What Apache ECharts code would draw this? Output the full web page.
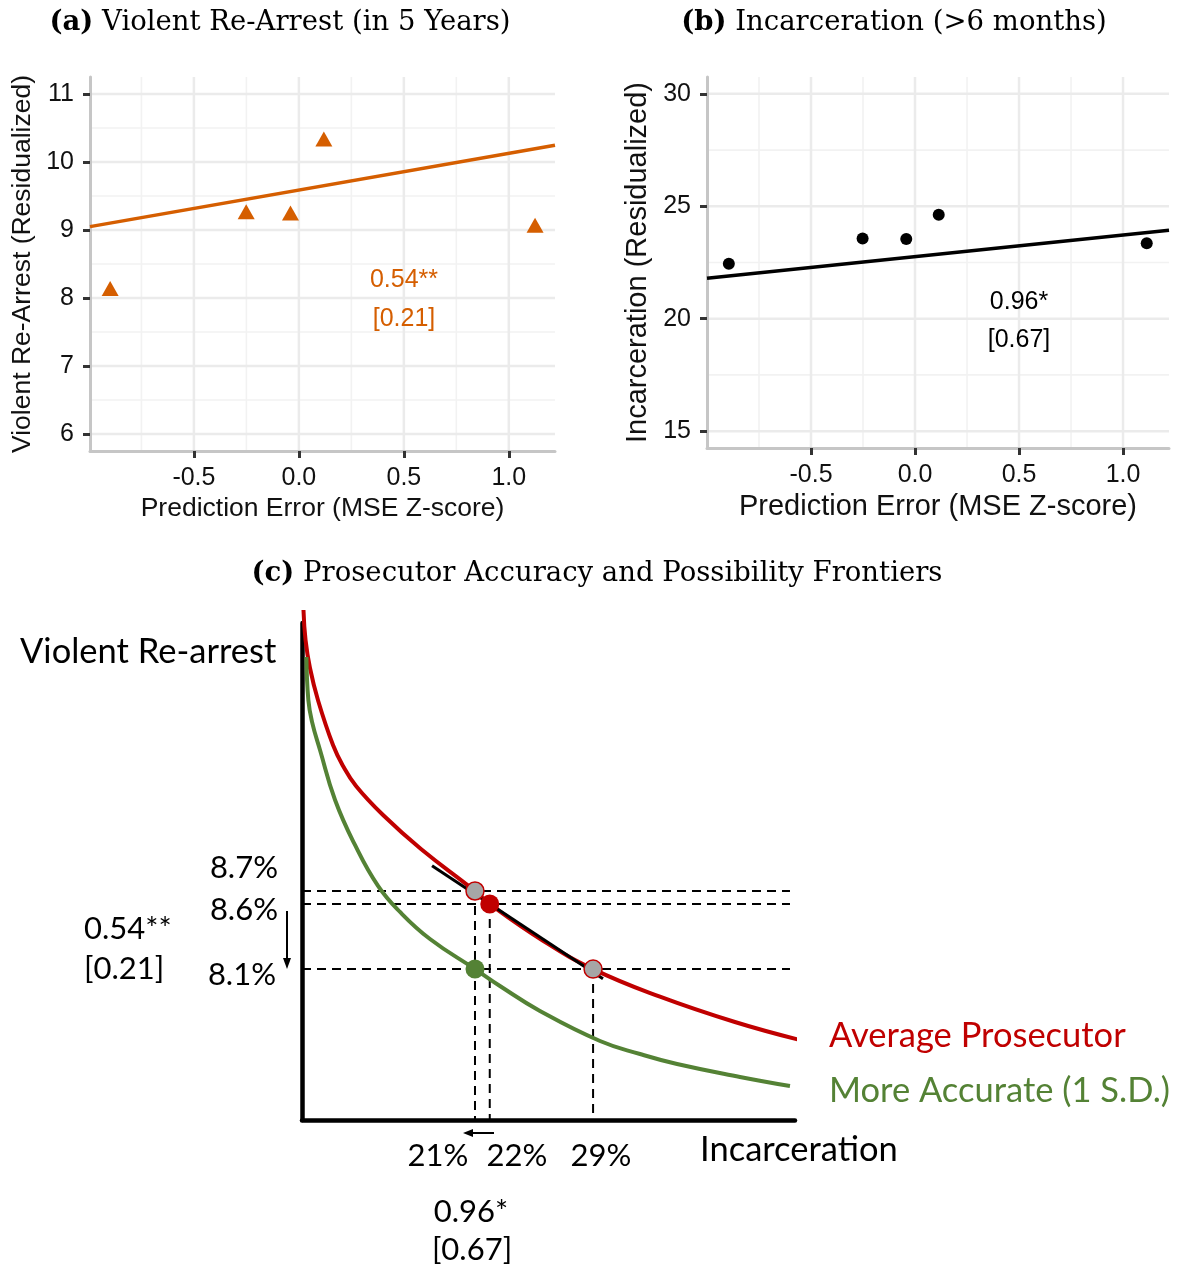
<!DOCTYPE html>
<html>
<head>
<meta charset="utf-8">
<script src="https://cdn.jsdelivr.net/npm/echarts@6/dist/echarts.min.js"></script>
<style>
  html, body { margin: 0; padding: 0; background: #ffffff; }
  #chart { width: 1203px; height: 1268px; }
</style>
</head>
<body>
<div id="chart"></div>
<script>
// ---- Panel (a): violent re-arrest vs. prosecutor prediction error ----
const errA = [-0.899, -0.251, -0.040, 0.119, 1.125];
const rearrestA = [8.14, 9.27, 9.25, 10.34, 9.07];
const fitStartA = [-0.995, 9.05];
const fitEndXA = 1.22;
const slopeA = 0.54;
const seA = 0.21;
const starsA = '**';

// ---- Panel (b): incarceration vs. prosecutor prediction error ----
const errB = [-0.895, -0.252, -0.042, 0.114, 1.114];
const incarcB = [22.44, 23.57, 23.54, 24.62, 23.36];
const fitStartB = [-1.0, 21.80];
const fitEndXB = 1.221;
const slopeB = 0.96;
const seB = 0.67;
const starsB = '*';

// ---- Tick values ----
const xTicksAB = [-0.5, 0.0, 0.5, 1.0];
const xMinorAB = [-0.75, -0.25, 0.25, 0.75];
const yTicksA = [6, 7, 8, 9, 10, 11];
const yMinorA = [6.5, 7.5, 8.5, 9.5, 10.5];
const yTicksB = [15, 20, 25, 30];
const yMinorB = [17.5, 22.5, 27.5];

// ---- Panel (c): possibility frontiers (incarceration %, violent re-arrest %) ----
const avgFrontier = [
  [9.38, 10.860], [9.52, 10.630], [9.82, 10.414], [10.36, 10.168], [11.38, 9.822],
  [12.06, 9.661], [12.94, 9.507], [14.77, 9.284], [17.34, 9.023], [21, 8.7],
  [22, 8.6], [25.61, 8.318], [29, 8.1], [33.53, 7.888], [38.61, 7.693], [43.01, 7.555]
];
const accFrontier = [
  [9.58, 10.499], [9.71, 10.168], [9.96, 10.0], [10.50, 9.784], [11.52, 9.400],
  [12.87, 9.054], [14.43, 8.739], [15.92, 8.539], [17.95, 8.331], [21, 8.1],
  [22.69, 7.970], [25.40, 7.778], [29.47, 7.547], [32.18, 7.447], [34.69, 7.370],
  [38.95, 7.271], [42.34, 7.201]
];
const avgPoint = [22, 8.6];
const avgAltPoints = [[21, 8.7], [29, 8.1]];
const accPoint = [21, 8.1];
const tangent = [[18.09, 8.894], [29.67, 8.025]];
const guideEndX = 42.34;

const AX = { min: -0.995, max: 1.22 };
const AY = { min: 5.75, max: 11.25 };
const BX = { min: -1.0, max: 1.221 };
const BY = { min: 14.25, max: 30.75 };
const CX = { min: 9.28, max: 42.68 };
const CY = { min: 6.94, max: 10.76 };

const ORANGE = '#D55E00';
const RED = '#C00000';
const GREEN = '#548235';
const SANS = '"Liberation Sans", Arial, sans-serif';
const CMS = 'Lato, "Noto Sans", sans-serif';
const SERIF = '"DejaVu Serif", serif';

// light ggplot-style grid lines drawn through the axis scales
function gridLines(axisIdx, vals, dir, other, color, width) {
  return {
    type: 'custom', xAxisIndex: axisIdx, yAxisIndex: axisIdx, silent: true, z: 1,
    data: vals.map(v => dir === 'v' ? [v, other] : [other, v]),
    renderItem(params, api) {
      const cs = params.coordSys;
      const p = api.coord([api.value(0), api.value(1)]);
      const shape = dir === 'v'
        ? { x1: p[0], y1: cs.y, x2: p[0], y2: cs.y + cs.height }
        : { x1: cs.x, y1: p[1], x2: cs.x + cs.width, y2: p[1] };
      return { type: 'line', shape, style: { stroke: color, lineWidth: width } };
    }
  };
}

function ggAxis(gridIndex, ext, ticks, fmt, name, nameGap, nameSize, isX) {
  return {
    type: 'value', gridIndex, min: ext.min, max: ext.max, z: 3,
    name, nameLocation: 'middle', nameGap,
    nameTextStyle: { fontFamily: SANS, fontSize: nameSize, color: '#111' },
    axisLine: { show: true, onZero: false, lineStyle: { color: '#c6c6c6', width: 3 } },
    axisTick: { show: true, customValues: ticks, length: 7, inside: false,
      lineStyle: { color: '#333', width: 3 } },
    axisLabel: { show: true, customValues: ticks, formatter: fmt, margin: isX ? 15 : 16,
      fontFamily: SANS, fontSize: 25, color: '#111' },
    splitLine: { show: false }
  };
}

const MAJ = '#ebebeb', MIN = '#f2f2f2';

const fitEndA = [fitEndXA, fitStartA[1] + slopeA * (fitEndXA - fitStartA[0])];
const fitEndB = [fitEndXB, fitStartB[1] + slopeB * (fitEndXB - fitStartB[0])];

function dashed(a, b) {
  return {
    type: 'line', xAxisIndex: 2, yAxisIndex: 2, data: [a, b], symbol: 'none', z: 4,
    silent: true, lineStyle: { color: '#000', width: 2, type: [9, 6] }
  };
}

const guides = [
  dashed([CX.min, avgAltPoints[0][1]], [guideEndX, avgAltPoints[0][1]]),
  dashed([CX.min, avgPoint[1]], [guideEndX, avgPoint[1]]),
  dashed([CX.min, accPoint[1]], [guideEndX, accPoint[1]]),
  dashed([avgAltPoints[0][0], avgAltPoints[0][1]], [avgAltPoints[0][0], CY.min]),
  dashed([avgPoint[0], avgPoint[1]], [avgPoint[0], CY.min]),
  dashed([avgAltPoints[1][0], avgAltPoints[1][1]], [avgAltPoints[1][0], CY.min])
];

function txt(text, x, y, opts) {
  return {
    type: 'text', z: 10, silent: true,
    style: Object.assign({
      text, x, y, font: '31px ' + CMS, fill: '#000',
      align: 'left', textAlign: 'left', verticalAlign: 'middle', textVerticalAlign: 'middle'
    }, opts || {})
  };
}

function panelTitle(tag, rest, cx, cy) {
  return {
    type: 'text', z: 10, silent: true,
    style: {
      text: '{b|' + tag + '}{r| ' + rest + '}', x: cx, y: cy,
      align: 'center', textAlign: 'center', verticalAlign: 'middle', textVerticalAlign: 'middle',
      rich: {
        b: { fontFamily: SERIF, fontWeight: 'bold', fontSize: 27.5, fill: '#000', color: '#000' },
        r: { fontFamily: SERIF, fontSize: 27.5, fill: '#000', color: '#000' }
      }
    }
  };
}

const WORD = '34.5px ' + CMS;

const chart = echarts.init(document.getElementById('chart'), null, { renderer: 'canvas' });

chart.setOption({
  backgroundColor: '#ffffff',
  animation: false,
  grid: [
    { left: 90, top: 77, width: 465, height: 374 },
    { left: 707, top: 77, width: 462, height: 371 },
    { left: 302, top: 623, width: 493, height: 497 }
  ],
  xAxis: [
    ggAxis(0, AX, xTicksAB, v => v.toFixed(1), 'Prediction Error (MSE Z-score)', 44, 26.5, true),
    ggAxis(1, BX, xTicksAB, v => v.toFixed(1), 'Prediction Error (MSE Z-score)', 44, 29, true),
    { type: 'value', gridIndex: 2, min: CX.min, max: CX.max, z: 3,
      axisLine: { show: true, onZero: false, lineStyle: { color: '#000', width: 4.5 } },
      axisTick: { show: false }, axisLabel: { show: false }, splitLine: { show: false } }
  ],
  yAxis: [
    ggAxis(0, AY, yTicksA, v => String(v), 'Violent Re-Arrest (Residualized)', 54, 26.5, false),
    ggAxis(1, BY, yTicksB, v => String(v), 'Incarceration (Residualized)', 55, 29, false),
    { type: 'value', gridIndex: 2, min: CY.min, max: CY.max, z: 3,
      axisLine: { show: true, onZero: false, lineStyle: { color: '#000', width: 4.5 } },
      axisTick: { show: false }, axisLabel: { show: false }, splitLine: { show: false } }
  ],
  series: [
    // panel (a) grid
    gridLines(0, xMinorAB, 'v', AY.min, MIN, 1.6),
    gridLines(0, yMinorA, 'h', AX.min, MIN, 1.6),
    gridLines(0, xTicksAB, 'v', AY.min, MAJ, 2.5),
    gridLines(0, yTicksA, 'h', AX.min, MAJ, 2.5),
    // panel (b) grid
    gridLines(1, xMinorAB, 'v', BY.min, MIN, 1.6),
    gridLines(1, yMinorB, 'h', BX.min, MIN, 1.6),
    gridLines(1, xTicksAB, 'v', BY.min, MAJ, 2.5),
    gridLines(1, yTicksB, 'h', BX.min, MAJ, 2.5),
    // panel (a) marks
    { type: 'line', xAxisIndex: 0, yAxisIndex: 0, data: [fitStartA, fitEndA], symbol: 'none', z: 4,
      lineStyle: { color: ORANGE, width: 3.5 } },
    { type: 'scatter', xAxisIndex: 0, yAxisIndex: 0, symbol: 'triangle', symbolSize: [17, 15], z: 5,
      itemStyle: { color: ORANGE, opacity: 1 }, data: errA.map((x, i) => [x, rearrestA[i]]) },
    // panel (b) marks
    { type: 'line', xAxisIndex: 1, yAxisIndex: 1, data: [fitStartB, fitEndB], symbol: 'none', z: 4,
      lineStyle: { color: '#000', width: 3.5 } },
    { type: 'scatter', xAxisIndex: 1, yAxisIndex: 1, symbol: 'circle', symbolSize: 12, z: 5,
      itemStyle: { color: '#000', opacity: 1 }, data: errB.map((x, i) => [x, incarcB[i]]) },
    // panel (c) guides and frontiers
    ...guides,
    { type: 'line', xAxisIndex: 2, yAxisIndex: 2, data: avgFrontier, symbol: 'none', smooth: 0.45,
      clip: false, z: 5, lineStyle: { color: RED, width: 4 } },
    { type: 'line', xAxisIndex: 2, yAxisIndex: 2, data: accFrontier, symbol: 'none', smooth: 0.45,
      clip: false, z: 5, lineStyle: { color: GREEN, width: 4 } },
    { type: 'line', xAxisIndex: 2, yAxisIndex: 2, data: tangent, symbol: 'none', z: 6,
      lineStyle: { color: '#000', width: 3 } },
    { type: 'scatter', xAxisIndex: 2, yAxisIndex: 2, data: avgAltPoints, symbolSize: 18, z: 7,
      itemStyle: { color: '#a6a6a6', borderColor: RED, borderWidth: 1.5, opacity: 1 } },
    { type: 'scatter', xAxisIndex: 2, yAxisIndex: 2, data: [avgPoint], symbolSize: 19, z: 7,
      itemStyle: { color: RED, opacity: 1 } },
    { type: 'scatter', xAxisIndex: 2, yAxisIndex: 2, data: [accPoint], symbolSize: 19, z: 7,
      itemStyle: { color: GREEN, opacity: 1 } }
  ],
  graphic: [
    panelTitle('(a)', 'Violent Re-Arrest (in 5 Years)', 280, 23),
    panelTitle('(b)', 'Incarceration (>6 months)', 894, 23),
    panelTitle('(c)', 'Prosecutor Accuracy and Possibility Frontiers', 597, 574),
    // coefficient labels inside panels (a) and (b)
    txt(slopeA.toFixed(2) + starsA, 404, 280, { font: '25px ' + SANS, fill: ORANGE, align: 'center', textAlign: 'center' }),
    txt('[' + seA.toFixed(2) + ']', 404, 319, { font: '25px ' + SANS, fill: ORANGE, align: 'center', textAlign: 'center' }),
    txt(slopeB.toFixed(2) + starsB, 1019, 302, { font: '25px ' + SANS, fill: '#000', align: 'center', textAlign: 'center' }),
    txt('[' + seB.toFixed(2) + ']', 1019, 340, { font: '25px ' + SANS, fill: '#000', align: 'center', textAlign: 'center' }),
    // panel (c) annotations
    txt('Violent Re-arrest', 20, 652, { font: WORD }),
    txt('Incarceration', 700, 1150, { font: WORD }),
    txt('Average Prosecutor', 829, 1036, { font: WORD, fill: RED }),
    txt('More Accurate (1 S.D.)', 829, 1091, { font: WORD, fill: GREEN }),
    txt(avgAltPoints[0][1].toFixed(1) + '%', 278, 868, { align: 'right', textAlign: 'right' }),
    txt(avgPoint[1].toFixed(1) + '%', 278, 910, { align: 'right', textAlign: 'right' }),
    txt(accPoint[1].toFixed(1) + '%', 276, 975, { align: 'right', textAlign: 'right' }),
    txt(slopeA.toFixed(2) + starsA, 84, 929),
    txt('[' + seA.toFixed(2) + ']', 84, 969),
    txt(accPoint[0] + '%', 438, 1156, { align: 'center', textAlign: 'center' }),
    txt(avgPoint[0] + '%', 517, 1156, { align: 'center', textAlign: 'center' }),
    txt(avgAltPoints[1][0] + '%', 601, 1156, { align: 'center', textAlign: 'center' }),
    txt(slopeB.toFixed(2) + starsB, 471, 1212, { align: 'center', textAlign: 'center' }),
    txt('[' + seB.toFixed(2) + ']', 472, 1250, { align: 'center', textAlign: 'center' }),
    // arrows: re-arrest falls, incarceration falls
    { type: 'line', silent: true, z: 10, shape: { x1: 287, y1: 911, x2: 287, y2: 960 }, style: { stroke: '#000', lineWidth: 2 } },
    { type: 'polygon', silent: true, z: 10, shape: { points: [[283, 958], [291, 958], [287, 969]] }, style: { fill: '#000' } },
    { type: 'line', silent: true, z: 10, shape: { x1: 494, y1: 1133, x2: 471, y2: 1133 }, style: { stroke: '#000', lineWidth: 2 } },
    { type: 'polygon', silent: true, z: 10, shape: { points: [[473, 1129], [473, 1137], [463, 1133]] }, style: { fill: '#000' } }
  ]
});
</script>
</body>
</html>
